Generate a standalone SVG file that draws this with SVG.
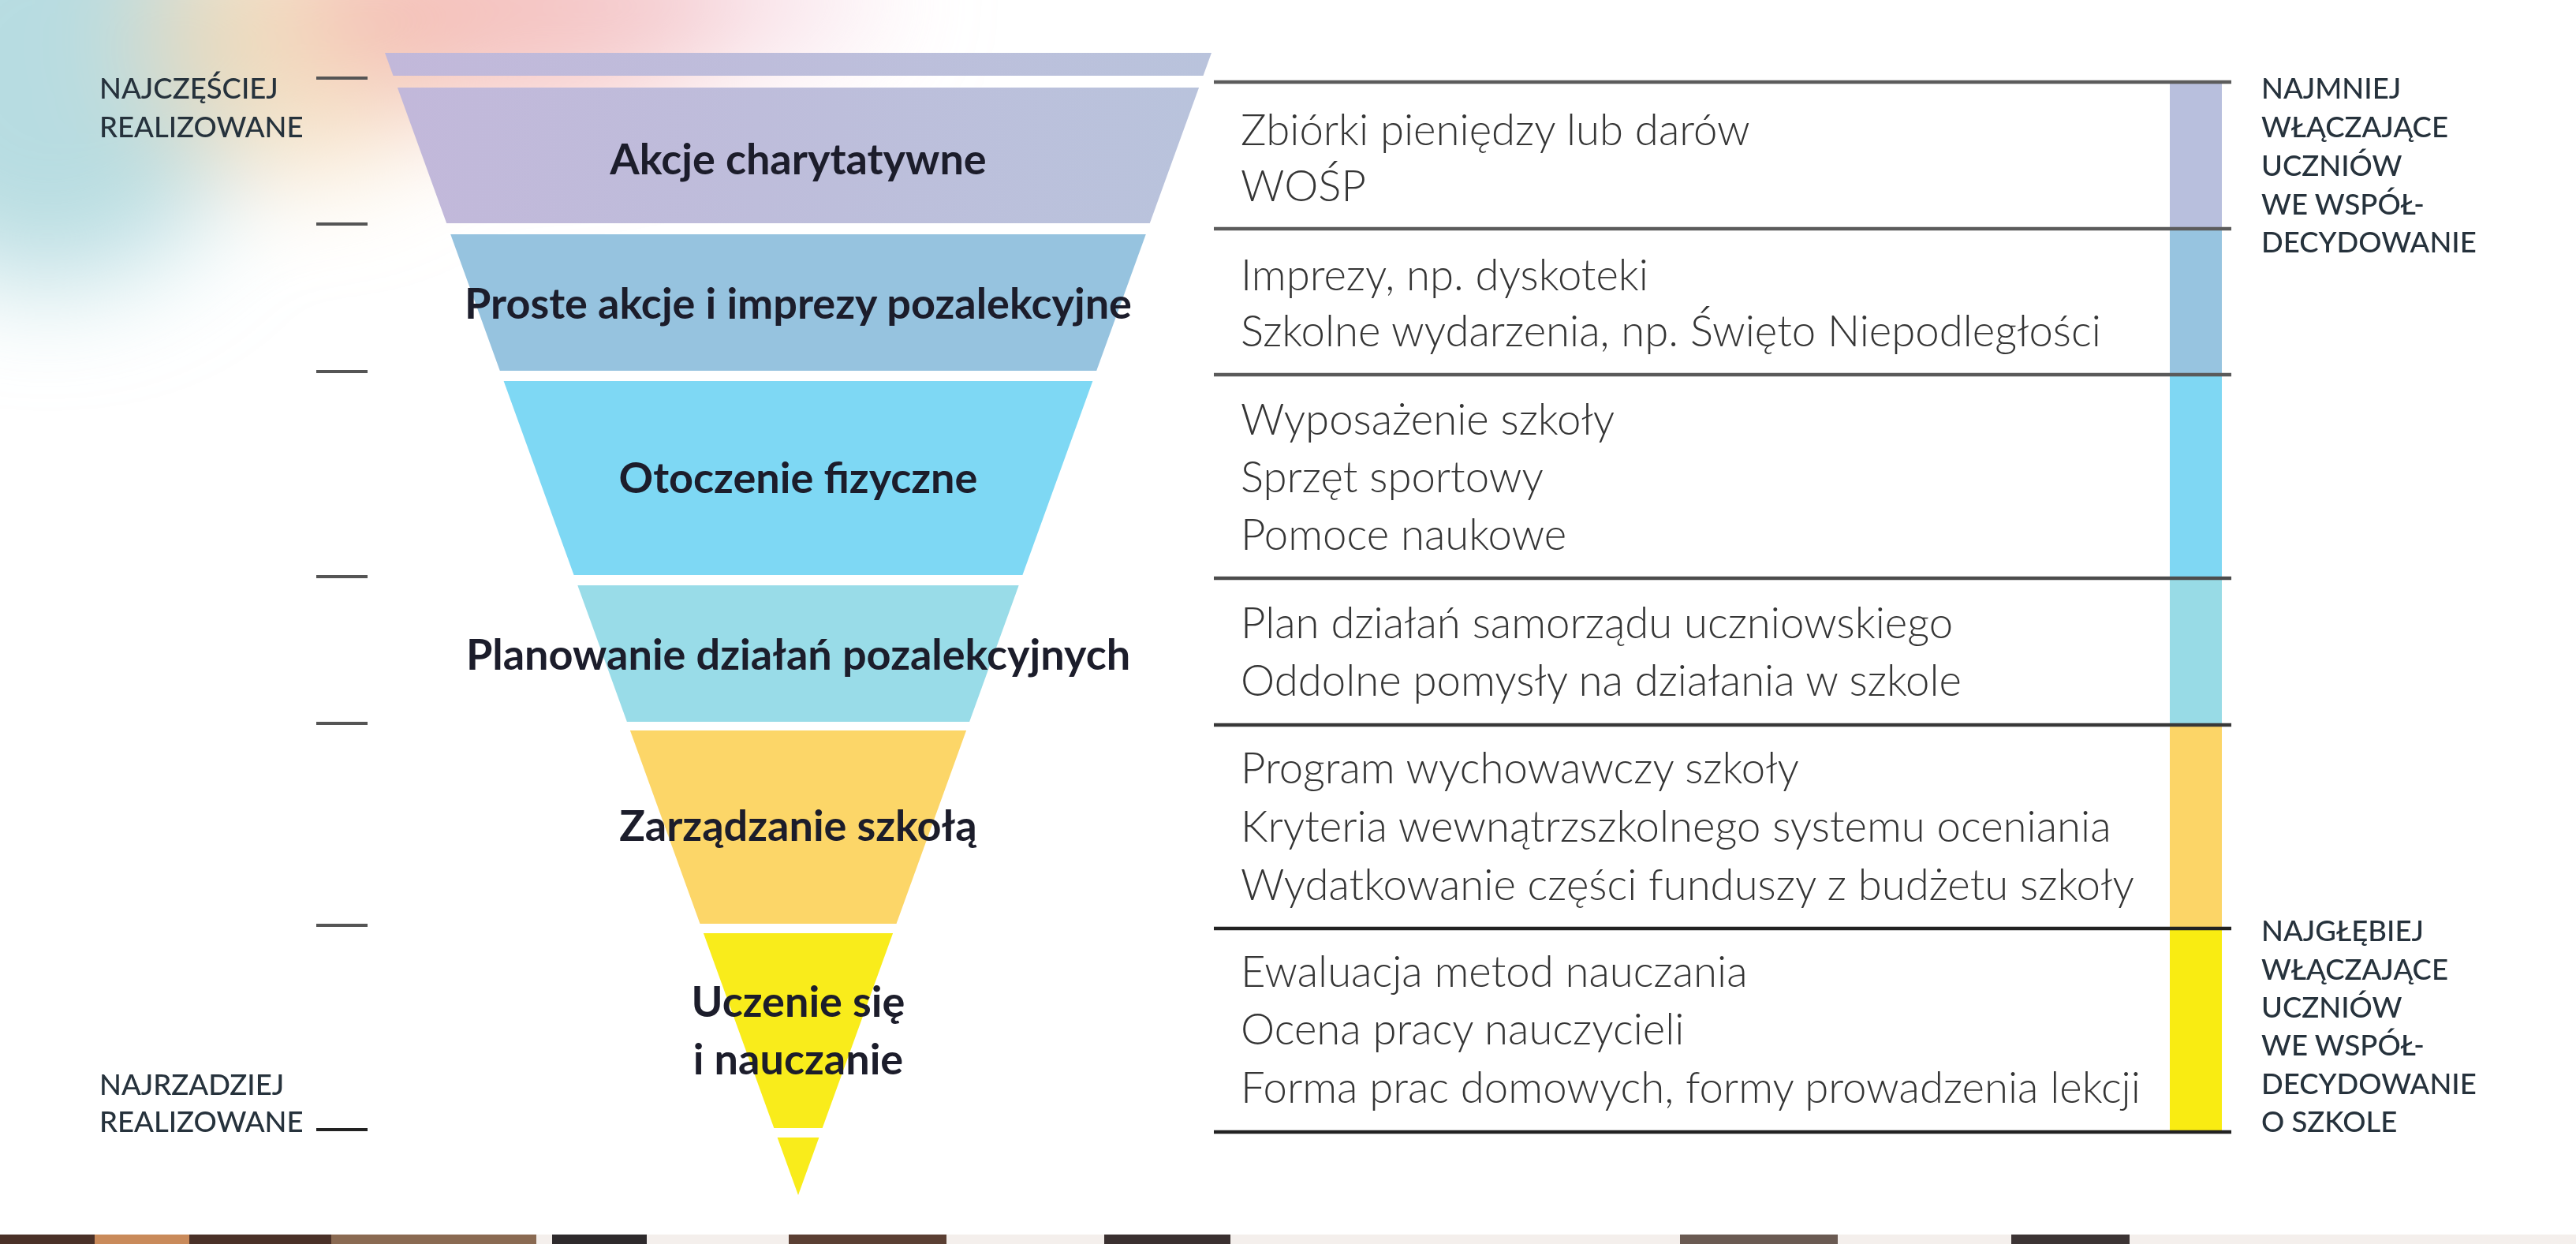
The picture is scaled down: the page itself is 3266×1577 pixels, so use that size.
<svg xmlns="http://www.w3.org/2000/svg" width="3266" height="1577" viewBox="0 0 3266 1577">
<defs>
<filter id="blur" x="-50%" y="-50%" width="200%" height="200%"><feGaussianBlur stdDeviation="70"/></filter>
<linearGradient id="gTop" x1="0" y1="0" x2="1" y2="0"><stop offset="0" stop-color="#c2b8da"/><stop offset="1" stop-color="#b9c3dc"/></linearGradient>
<style>
.band-label{font-family:Lato,"Liberation Sans",sans-serif;font-weight:700;font-size:54px;fill:#1c1d2b;text-anchor:middle}
.item{font-family:Lato,"Liberation Sans",sans-serif;font-weight:300;font-size:54.5px;fill:#353535}
.cap{font-family:Lato,"Liberation Sans",sans-serif;font-weight:500;font-size:36.5px;fill:#26323c}
.tick{stroke:#555;stroke-width:4}
.rule{stroke-width:4.5}
</style>
</defs>
<rect width="3266" height="1577" fill="#ffffff"/>
<g id="background-glow" filter="url(#blur)">
<ellipse cx="60" cy="90" rx="260" ry="270" fill="#aad6dc" opacity="0.85"/>
<ellipse cx="380" cy="50" rx="200" ry="170" fill="#f2d9b4" opacity="0.8"/>
<ellipse cx="660" cy="10" rx="280" ry="130" fill="#f2b4b0" opacity="0.8"/>
<ellipse cx="920" cy="0" rx="200" ry="90" fill="#f4d0dc" opacity="0.55"/>
</g>
<g id="photo-strip">
<rect x="0" y="1565" width="3266" height="12" fill="#f4efec"/>
<rect x="0" y="1565" width="420" height="12" fill="#4a3128"/>
<rect x="120" y="1565" width="120" height="12" fill="#c98a5a"/>
<rect x="420" y="1565" width="260" height="12" fill="#8a6a52"/>
<rect x="700" y="1565" width="120" height="12" fill="#2e2a2c"/>
<rect x="1000" y="1565" width="200" height="12" fill="#5b3f33"/>
<rect x="1400" y="1565" width="160" height="12" fill="#3a3030"/>
<rect x="2130" y="1565" width="200" height="12" fill="#6a5a52"/>
<rect x="2550" y="1565" width="150" height="12" fill="#3c3434"/>
</g>
<g id="funnel">
<g id="band-0"><polygon points="488,67 1536,67 1525.5,96 498.5,96" fill="url(#gTop)"/></g>
<g id="band-1"><polygon points="503.9,111 1520.1,111 1457.8,283 566.2,283" fill="url(#gTop)"/><text class="band-label" x="1012" y="221">Akcje charytatywne</text></g>
<g id="band-2"><polygon points="571.2,297 1452.8,297 1390.2,470 633.8,470" fill="#96c3df"/><text class="band-label" x="1012" y="404">Proste akcje i imprezy pozalekcyjne</text></g>
<g id="band-3"><polygon points="638.6,483 1385.4,483 1296.4,729 727.6,729" fill="#7ed8f4"/><text class="band-label" x="1012" y="625">Otoczenie fizyczne</text></g>
<g id="band-4"><polygon points="732.3,742 1291.7,742 1229.1,915 794.9,915" fill="#99dce8"/><text class="band-label" x="1012" y="849">Planowanie działań pozalekcyjnych</text></g>
<g id="band-5"><polygon points="798.9,926 1225.1,926 1136.5,1171 887.5,1171" fill="#fcd668"/><text class="band-label" x="1012" y="1066">Zarządzanie szkołą</text></g>
<g id="band-6"><polygon points="891.9,1183 1132.1,1183 1042.7,1430 981.3,1430" fill="#f9ec1b"/><text class="band-label" x="1012" y="1289">Uczenie się</text><text class="band-label" x="1012" y="1362">i nauczanie</text></g>
<g id="band-7"><polygon points="985.6,1442 1038.4,1442 1012,1515" fill="#f9ec1b"/></g>
</g>
<g id="left-scale">
<line class="tick" x1="401" y1="99" x2="466" y2="99" stroke="#6b6152"/>
<line class="tick" x1="401" y1="284" x2="466" y2="284"/>
<line class="tick" x1="401" y1="471" x2="466" y2="471"/>
<line class="tick" x1="401" y1="731" x2="466" y2="731"/>
<line class="tick" x1="401" y1="917" x2="466" y2="917"/>
<line class="tick" x1="401" y1="1173" x2="466" y2="1173"/>
<line class="tick" x1="401" y1="1432" x2="466" y2="1432" style="stroke:#222"/>
<text class="cap" x="126" y="125">NAJCZĘŚCIEJ</text>
<text class="cap" x="126" y="174">REALIZOWANE</text>
<text class="cap" x="126" y="1388">NAJRZADZIEJ</text>
<text class="cap" x="126" y="1435">REALIZOWANE</text>
</g>
<g id="color-bar">
<rect x="2751" y="104" width="66" height="186" fill="#b8bfdd"/>
<rect x="2751" y="290" width="66" height="185" fill="#97c4e0"/>
<rect x="2751" y="475" width="66" height="258" fill="#7fd7f3"/>
<rect x="2751" y="733" width="66" height="186" fill="#98dbe6"/>
<rect x="2751" y="919" width="66" height="258" fill="#fcd567"/>
<rect x="2751" y="1177" width="66" height="258" fill="#f9ec12"/>
</g>
<g id="connectors">
<line class="rule" x1="1539" y1="104" x2="2829" y2="104" stroke="#5c5c5c"/>
<line class="rule" x1="1539" y1="290" x2="2829" y2="290" stroke="#5c5c5c"/>
<line class="rule" x1="1539" y1="475" x2="2829" y2="475" stroke="#5a5a5a"/>
<line class="rule" x1="1539" y1="733" x2="2829" y2="733" stroke="#4c4c4c"/>
<line class="rule" x1="1539" y1="919" x2="2829" y2="919" stroke="#383838"/>
<line class="rule" x1="1539" y1="1177" x2="2829" y2="1177" stroke="#222"/>
<line class="rule" x1="1539" y1="1435" x2="2829" y2="1435" stroke="#222"/>
</g>
<g id="items-1"><text class="item" x="1573" y="184">Zbiórki pieniędzy lub darów</text><text class="item" x="1573" y="255">WOŚP</text></g>
<g id="items-2"><text class="item" x="1573" y="368">Imprezy, np. dyskoteki</text><text class="item" x="1573" y="439">Szkolne wydarzenia, np. Święto Niepodległości</text></g>
<g id="items-3"><text class="item" x="1573" y="551">Wyposażenie szkoły</text><text class="item" x="1573" y="624">Sprzęt sportowy</text><text class="item" x="1573" y="697">Pomoce naukowe</text></g>
<g id="items-4"><text class="item" x="1573" y="809">Plan działań samorządu uczniowskiego</text><text class="item" x="1573" y="882">Oddolne pomysły na działania w szkole</text></g>
<g id="items-5"><text class="item" x="1573" y="993">Program wychowawczy szkoły</text><text class="item" x="1573" y="1067">Kryteria wewnątrzszkolnego systemu oceniania</text><text class="item" x="1573" y="1141">Wydatkowanie części funduszy z budżetu szkoły</text></g>
<g id="items-6"><text class="item" x="1573" y="1251">Ewaluacja metod nauczania</text><text class="item" x="1573" y="1324">Ocena pracy nauczycieli</text><text class="item" x="1573" y="1398">Forma prac domowych, formy prowadzenia lekcji</text></g>
<g id="right-top-label">
<text class="cap" x="2867" y="125">NAJMNIEJ</text>
<text class="cap" x="2867" y="174">WŁĄCZAJĄCE</text>
<text class="cap" x="2867" y="223">UCZNIÓW</text>
<text class="cap" x="2867" y="272">WE WSPÓŁ-</text>
<text class="cap" x="2867" y="320">DECYDOWANIE</text>
</g>
<g id="right-bottom-label">
<text class="cap" x="2867" y="1193">NAJGŁĘBIEJ</text>
<text class="cap" x="2867" y="1242">WŁĄCZAJĄCE</text>
<text class="cap" x="2867" y="1290">UCZNIÓW</text>
<text class="cap" x="2867" y="1338">WE WSPÓŁ-</text>
<text class="cap" x="2867" y="1387">DECYDOWANIE</text>
<text class="cap" x="2867" y="1435">O SZKOLE</text>
</g>
</svg>
